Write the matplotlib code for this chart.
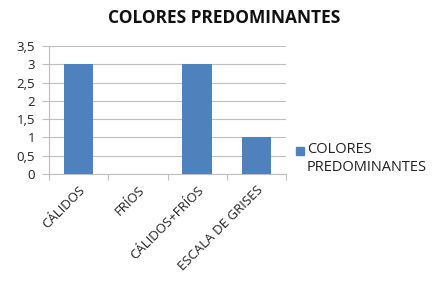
import matplotlib.pyplot as plt
from matplotlib.patches import Rectangle

categorias = ["CÁLIDOS", "FRÍOS", "CÁLIDOS+FRÍOS", "ESCALA DE GRISES"]
valores = [3, 0, 3, 1]
serie = "COLORES PREDOMINANTES"
yticks = [0, 0.5, 1, 1.5, 2, 2.5, 3, 3.5]
ylabels = ["0", "0,5", "1", "1,5", "2", "2,5", "3", "3,5"]

plt.rcParams['font.family'] = ['Open Sans', 'DejaVu Sans']
azul = "#4F81BD"
gris = "#BFBFBF"
texto = "#222222"

W, H = 439, 288
fig = plt.figure(figsize=(W / 100, H / 100), dpi=100)
ax = fig.add_axes([0.1116, 0.396, 0.54, 0.444])

x = range(len(categorias))
ax.bar(x, valores, width=0.5, color=azul, zorder=3)
ax.set_xlim(-0.5, len(categorias) - 0.5)
ax.set_ylim(0, 3.5)
ax.set_yticks(yticks)
ax.set_yticklabels(ylabels, fontsize=9.5, color=texto)
ax.yaxis.grid(True, color=gris, linewidth=0.8, zorder=0)

ax.set_xticks([i - 0.5 for i in range(len(categorias) + 1)], minor=False)
ax.set_xticklabels([])
ax.set_xticks(list(x), minor=True)
ax.set_xticklabels(categorias, minor=True, rotation=45, ha='right',
                   rotation_mode='anchor', fontsize=9.5, color=texto)
ax.tick_params(axis='x', which='minor', length=0, pad=7)
ax.tick_params(axis='x', which='major', length=4, color=gris, direction='out')
ax.tick_params(axis='y', length=5, color=gris, pad=5)

for s in ["top", "right"]:
    ax.spines[s].set_visible(False)
ax.spines["left"].set_color(gris)
ax.spines["bottom"].set_color(gris)

fig.text(0.51, 0.937, serie, ha='center', va='center', fontsize=12.5,
         fontweight='bold', color="#111111")

# leyenda: cuadro alineado con la primera línea, como en Excel
fig.patches.append(Rectangle((296 / W, 1 - 155 / H), 8 / W, 8 / H,
                             transform=fig.transFigure, color=azul))
fig.text(307 / W, 1 - 142 / H, "COLORES\nPREDOMINANTES", ha='left', va='top',
         fontsize=10.5, color=texto, linespacing=1.25)

fig.savefig("out.png", dpi=100)
